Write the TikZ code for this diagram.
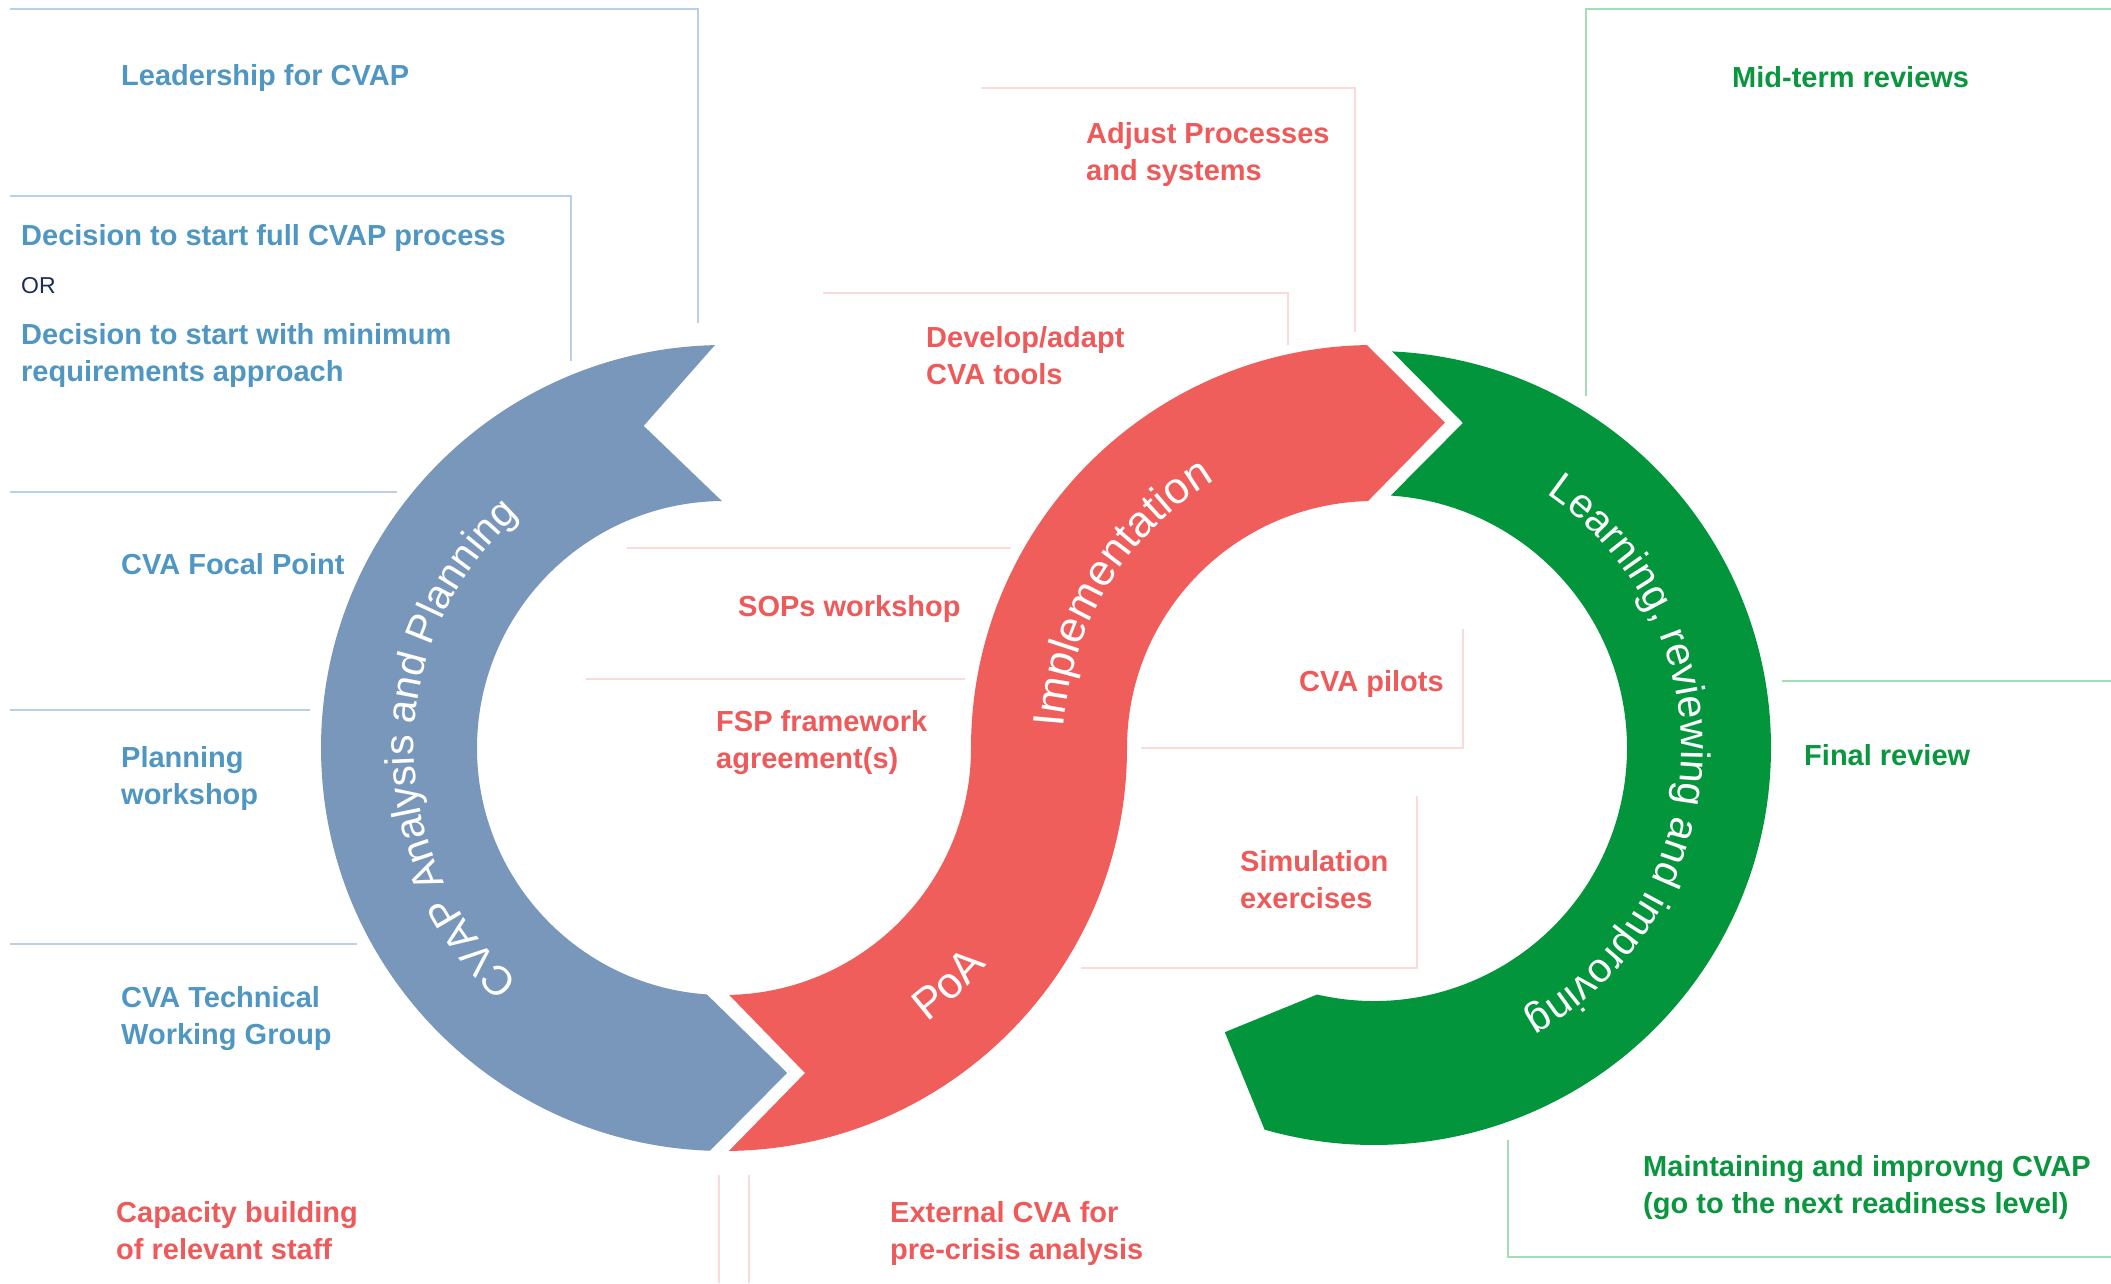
\documentclass[tikz,border=0pt]{standalone}
\usepackage{fontspec}
\setmainfont{Liberation Sans}
\usetikzlibrary{calc,decorations.text}
\definecolor{bandblue}{HTML}{7997BB}
\definecolor{bandred}{HTML}{EF5E5B}
\definecolor{bandgreen}{HTML}{02953C}
\definecolor{textblue}{HTML}{5096C3}
\definecolor{textred}{HTML}{EE5A5A}
\definecolor{textgreen}{HTML}{0A963E}
\definecolor{rulblue}{HTML}{B9D0E5}
\definecolor{rulpink}{HTML}{FBDADB}
\definecolor{rulgreen}{HTML}{A6DCB6}
\definecolor{ornavy}{HTML}{1C2B5E}
\begin{document}
\begin{tikzpicture}
    [x=1pt, y=1pt,
     rulb/.style={draw=rulblue, line width=2pt},
     rulp/.style={draw=rulpink, line width=2pt},
     rulg/.style={draw=rulgreen, line width=2pt},
     steptext/.style={anchor=west, inner sep=0pt, align=left, font=\bfseries\fontsize{29}{37}\selectfont},
     bluetext/.style={steptext, text=textblue},
     redtext/.style={steptext, text=textred},
     greentext/.style={steptext, text=textgreen},
     ringtext/.style={decorate, decoration={text along path, text align=center, text color=white, text={#1}}}]
        \useasboundingbox (0,0) rectangle (2111,1283);
        \coordinate (lc) at (724,535);
        \coordinate (rc) at (1374,535);
        \draw 
            [rulb] (10,1274)--(698,1274)--(698,960);
        \draw 
            [rulb] (10,1087)--(571,1087)--(571,922);
        \draw 
            [rulb] (10,791)--(397,791);
        \draw 
            [rulb] (10,573)--(310,573);
        \draw 
            [rulb] (10,339)--(357,339);
        \draw 
            [rulp] (981,1195)--(1355,1195)--(1355,951);
        \draw 
            [rulp] (823,990)--(1288,990)--(1288,938);
        \draw 
            [rulp] (627,735)--(1011,735);
        \draw 
            [rulp] (586,604)--(965,604);
        \draw 
            [rulp] (1463,654)--(1463,535)--(1141,535);
        \draw 
            [rulp] (1417,487)--(1417,315)--(1081,315);
        \draw 
            [rulp] (719,108)--(719,0);
        \draw 
            [rulp] (749,108)--(749,0);
        \draw 
            [rulg] (1586,887)--(1586,1274)--(2111,1274);
        \draw 
            [rulg] (1782,602)--(2111,602);
        \draw 
            [rulg] (1508,143)--(1508,26)--(2111,26);
        \fill 
            [bandblue] ($(lc)+(91.3:403)$) arc[start angle=91.3, end angle=268, radius=403] -- ($(lc)+(281:331)$) -- ($(lc)+(266:247)$) arc[start angle=266, end angle=90.5, radius=247] -- ($(lc)+(104:332)$) -- cycle;
        \fill 
            [bandred] ($(lc)+(270.7:403)$) arc[start angle=270.7, end angle=360, radius=403] arc[start angle=180, end angle=91.4, radius=247] -- ($(rc)+(77.7:333)$) -- ($(rc)+(91:403)$) arc[start angle=91, end angle=180, radius=403] arc[start angle=0, end angle=-88.8, radius=247] -- ($(lc)+(284:335)$) -- cycle;
        \fill 
            [bandgreen] ($(rc)+(87.4:397)$) arc[start angle=87.4, end angle=-106, radius=397] -- ($(rc)+(-117.7:321)$) -- ($(rc)+(-103:253)$) arc[start angle=-103, end angle=86.2, radius=253] -- ($(rc)+(74.7:337)$) -- cycle;
        \path 
            [ringtext={|\fontsize{41}{41}\selectfont|CVAP Analysis and Planning}] ($(lc)+(240:310)$) arc[start angle=240, end angle=120, radius=310];
        \path 
            [ringtext={|\fontsize{44}{44}\selectfont|Implementation}] ($(rc)+(181:311)$) arc[start angle=181, end angle=116, radius=311];
        \path 
            [ringtext={|\fontsize{41}{41}\selectfont|Learning{,} reviewing and improving}] ($(rc)+(64:307)$) arc[start angle=64, end angle=-69, radius=307];
        \path 
            [ringtext={|\fontsize{44}{44}\selectfont|PoA}] ($(lc)+(-70:341)$) arc[start angle=-70, end angle=-23, radius=341];
        \node [bluetext] (lead) at (121,1205) {Leadership for CVAP};
        \node [bluetext] (decfull) at (21,1045) {Decision to start full CVAP process};
        \node [anchor=west, inner sep=0pt, text=ornavy, font=\fontsize{23}{28}\selectfont] (orword) at (21,997) {OR};
        \node [bluetext] (decmin) at (21,927) {Decision to start with minimum\\requirements approach};
        \node [bluetext] (focal) at (121,719) {CVA Focal Point};
        \node [bluetext] (planws) at (121,504) {Planning\\workshop};
        \node [bluetext] (techwg) at (121,264) {CVA Technical\\Working Group};
        \node [redtext] (capbuild) at (116,52) {Capacity building\\of relevant staff};
        \node [redtext] (extcva) at (890,50) {External CVA for\\pre-crisis analysis};
        \node [redtext] (sops) at (738,674) {SOPs workshop};
        \node [redtext] (fsp) at (716,540) {FSP framework\\agreement(s)};
        \node [redtext] (devtools) at (926,927) {Develop/adapt\\CVA tools};
        \node [redtext] (adjust) at (1086,1128) {Adjust Processes\\and systems};
        \node [redtext] (pilots) at (1299,599) {CVA pilots};
        \node [redtext] (simex) at (1240,403) {Simulation\\exercises};
        \node [greentext] (midterm) at (1732,1206) {Mid-term reviews};
        \node [greentext] (finalrev) at (1804,528) {Final review};
        \node [greentext] (maintain) at (1643,95) {Maintaining and improvng CVAP\\(go to the next readiness level)};
\end{tikzpicture}
\end{document}
